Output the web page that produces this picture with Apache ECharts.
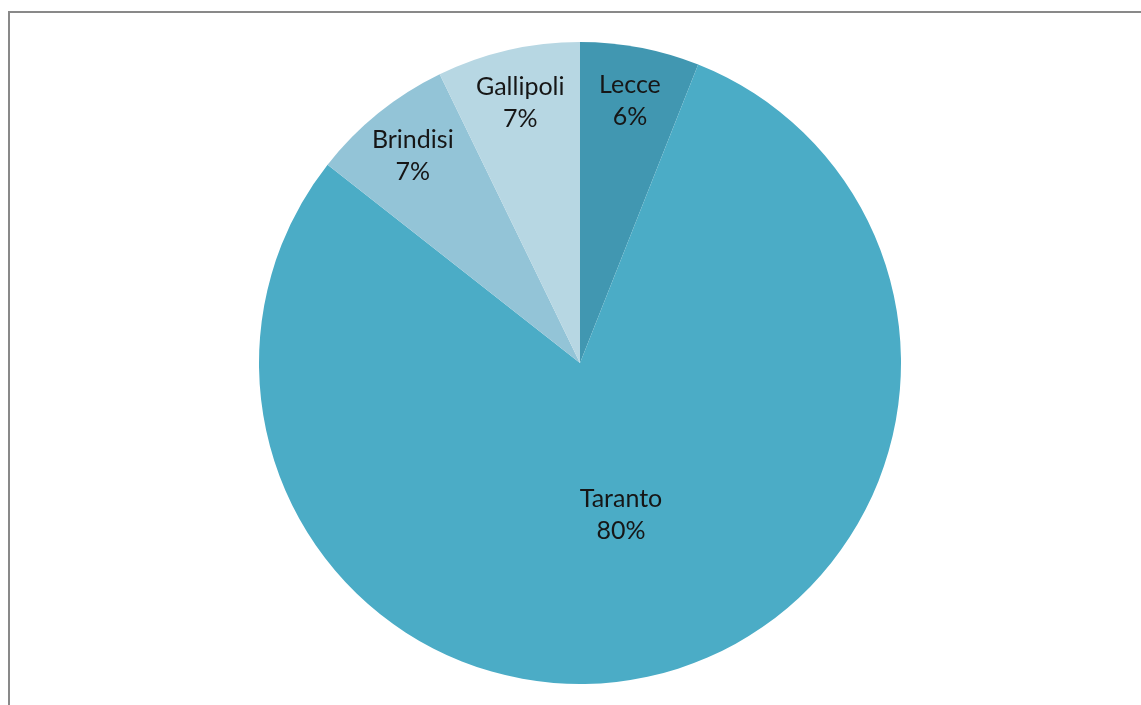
<!DOCTYPE html>
<html>
<head>
<meta charset="utf-8">
<script src="https://cdn.jsdelivr.net/npm/echarts@6/dist/echarts.min.js"></script>
<style>
  html, body { margin: 0; padding: 0; background: #fff; }
  #main { width: 1141px; height: 705px; }
</style>
</head>
<body>
<div id="main"></div>
<script>
// dati del grafico
var categories = ['Lecce', 'Taranto', 'Brindisi', 'Gallipoli'];
var values = [6.0, 79.6, 7.2, 7.2];
var sliceColors = ['#4197b1', '#4bacc6', '#93c4d7', '#b7d7e3'];

var cx = 580, cy = 363, R = 321;

var total = 0;
for (var i = 0; i < values.length; i++) total += values[i];

// angolo medio di ogni fetta (gradi, in senso orario dall'alto)
function midAngle(idx) {
    var cum = 0;
    for (var j = 0; j < idx; j++) cum += values[j];
    return (cum + values[idx] / 2) / total * 360;
}

var chart = echarts.init(document.getElementById('main'));

var pieData = [];
for (var k = 0; k < categories.length; k++) {
    pieData.push({ name: categories[k], value: values[k], itemStyle: { color: sliceColors[k] } });
}

chart.setOption({
    animation: false,
    graphic: [{
        type: 'rect',
        shape: { x: 9, y: 12, width: 1300, height: 900 },
        style: { fill: 'none', stroke: '#898989', lineWidth: 2 },
        silent: true
    }],
    series: [{
        type: 'pie',
        center: [cx, cy],
        radius: R,
        startAngle: 90,
        clockwise: true,
        itemStyle: { borderWidth: 0 },
        label: {
            show: true,
            position: 'inside',
            fontFamily: 'Lato',
            fontSize: 25,
            lineHeight: 32,
            color: '#161616',
            align: 'center',
            formatter: function (p) {
                return p.name + '\n' + Math.round(p.percent) + '%';
            }
        },
        labelLine: { show: false },
        labelLayout: function (params) {
            var idx = params.dataIndex;
            var a = midAngle(idx) * Math.PI / 180;
            var f = values[idx] / total > 0.5 ? 0.49 : 0.83;
            return {
                x: cx + f * R * Math.sin(a),
                y: cy - f * R * Math.cos(a),
                align: 'center',
                verticalAlign: 'middle'
            };
        },
        emphasis: { disabled: true },
        data: pieData
    }]
});
</script>
</body>
</html>
